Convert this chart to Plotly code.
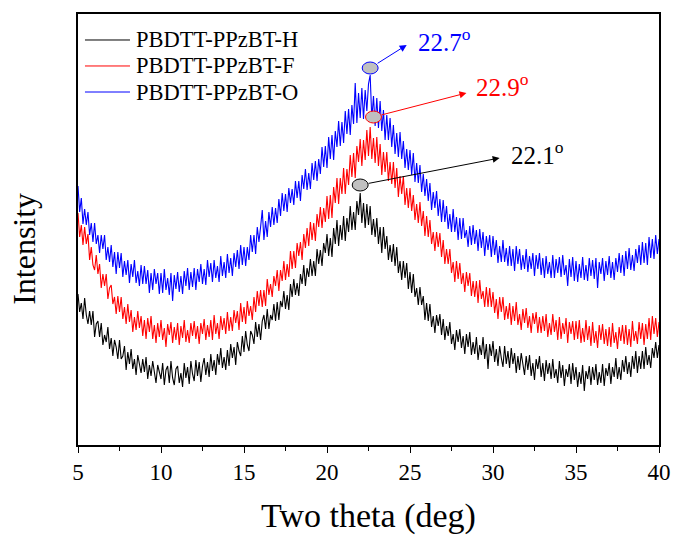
import numpy as np
import plotly.graph_objects as go

# ---- data (intensity in arbitrary units) ----
x_start, x_step = 5.0, 0.1

series_names = ["PBDTT-PPzBT-H", "PBDTT-PPzBT-F", "PBDTT-PPzBT-O"]
series_colors = ["#000000", "#ff0000", "#0000ff"]

intensity_H = [
    151,133,142,126,147,130,121,134,120,134,
    108,121,124,108,122,100,110,103,118,96,
    107,89,105,98,86,105,86,89,99,75,
    93,81,96,76,86,70,90,79,72,86,
    73,88,66,80,69,84,71,62,80,72,
    66,82,60,75,79,62,84,67,60,76,
    79,62,72,58,82,67,78,61,84,71,
    64,85,69,83,63,79,87,70,83,68,
    91,74,85,70,91,80,97,77,88,75,
    95,79,101,87,98,80,103,94,89,109,
    93,114,100,94,114,110,101,123,108,121,
    105,124,130,116,136,116,130,125,141,124,
    143,125,144,138,154,136,150,135,161,148,
    166,150,162,149,171,161,180,159,177,168,
    186,169,184,169,196,181,195,179,202,192,
    211,189,207,188,217,201,225,199,220,205,
    229,204,227,213,239,215,233,215,244,230,
    252,222,242,217,241,220,239,210,226,208,
    227,201,218,192,218,196,209,185,200,183,
    201,179,198,172,184,165,184,167,182,156,
    173,152,171,148,157,140,158,140,149,125,
    142,124,141,118,129,112,130,119,131,110,
    126,105,119,109,123,101,111,95,115,103,
    116,97,109,91,111,98,113,90,103,91,
    108,85,100,90,108,86,101,76,101,89,
    104,83,96,79,99,87,78,99,81,94,
    77,97,81,92,72,89,75,92,78,70,
    89,75,90,69,82,65,86,76,89,68,
    82,64,85,71,82,66,86,67,76,62,
    84,67,80,59,76,68,81,61,82,65,
    78,58,73,61,80,54,74,66,79,60,
    78,65,81,60,73,62,81,59,77,69,
    82,61,78,68,87,66,78,65,85,73,
    89,71,83,68,89,76,94,72,89,76,
    94,76,98,80,90,77,97,87,103,87,
    100,
]

intensity_F = [
    232,208,220,200,218,201,211,185,198,180,
    175,190,171,181,157,171,159,171,146,157,
    160,141,148,131,149,133,148,126,138,121,
    141,123,135,113,128,115,134,117,129,109,
    125,106,127,113,129,106,120,102,122,108,
    125,105,117,98,121,110,123,102,118,105,
    122,100,119,107,125,103,115,102,122,109,
    124,106,119,101,122,111,126,105,120,108,
    125,105,130,111,122,106,129,115,127,111,
    133,114,128,114,135,122,134,115,142,123,
    138,121,144,129,139,125,148,133,154,139,
    155,138,155,139,166,150,161,148,169,159,
    175,154,175,164,184,165,181,168,194,176,
    194,177,202,189,203,185,211,197,217,199,
    223,205,222,204,231,218,238,217,237,223,
    249,226,250,227,258,242,267,241,267,251,
    277,251,276,260,290,268,292,267,299,283,
    306,279,305,285,315,289,318,286,307,282,
    308,279,301,270,293,273,293,264,283,261,
    283,257,277,248,269,251,269,240,257,237,
    257,234,250,225,241,222,243,219,234,209,
    229,208,225,201,213,194,213,198,212,188,
    205,181,196,181,196,172,183,163,184,166,
    182,161,172,153,173,159,172,149,164,148,
    164,142,165,146,154,138,158,138,157,138,
    153,132,146,126,148,133,148,125,139,126,
    142,120,139,124,143,120,131,115,136,122,
    137,117,129,112,132,121,133,112,128,112,
    129,114,131,108,122,110,131,113,125,105,
    128,106,122,111,127,102,123,111,124,105,
    124,106,125,102,117,103,125,105,119,99,
    123,102,114,97,120,105,121,101,116,99,
    118,98,122,102,113,96,118,104,120,101,
    120,100,116,98,124,104,114,101,123,106,
    122,100,121,106,127,105,129,111,127,108,
    123,
]

intensity_O = [
    259,233,247,221,236,220,233,210,222,203,
    222,201,210,192,210,196,210,185,198,183,
    200,178,193,171,193,177,192,168,184,170,
    185,162,181,168,185,162,174,159,180,161,
    179,161,175,152,172,155,176,161,172,151,
    172,152,176,155,167,150,172,144,170,156,
    173,153,169,151,174,159,177,155,173,158,
    177,155,176,163,181,161,176,160,185,168,
    182,163,185,167,179,163,189,169,183,167,
    191,172,187,169,192,178,195,176,200,180,
    198,179,198,185,210,193,210,191,218,203,
    218,235,205,224,208,233,218,238,220,237,
    222,246,229,252,234,251,233,257,242,256,
    240,264,247,264,244,270,256,276,255,272,
    256,282,265,284,264,286,271,298,278,299,
    277,308,286,310,285,314,298,324,299,323,
    302,334,311,336,310,340,321,362,322,352,
    327,357,326,355,334,361,370,326,349,319,
    347,317,344,314,335,305,330,305,327,298,
    320,291,312,288,313,286,304,277,296,275,
    295,270,292,263,282,262,280,253,271,249,
    266,244,262,235,253,237,254,229,246,223,
    245,223,239,216,231,213,236,213,228,205,
    227,206,227,207,215,198,219,200,220,201,
    215,194,216,197,213,189,209,195,210,188,
    209,190,205,182,199,183,205,183,197,179,
    199,179,196,174,199,181,196,175,190,176,
    196,173,189,176,192,169,190,176,192,170,
    187,167,189,171,183,167,190,167,186,172,
    188,168,190,170,180,159,186,168,188,164,
    184,163,181,167,188,165,180,164,187,169,
    185,166,187,157,183,171,187,164,184,170,
    189,167,183,165,187,173,192,172,190,169,
    194,176,197,175,190,174,196,182,200,180,
    203,182,202,180,208,187,206,186,210,191,
    206,
]

x_ticks = [5, 10, 15, 20, 25, 30, 35, 40]
x_minor_ticks = [7.5, 12.5, 17.5, 22.5, 27.5, 32.5, 37.5]

# peak annotations: marker positions/heights, arrow tips, label positions
peak_pos = [22.0, 22.8, 22.6]
peak_height = [260, 328, 377]
arrow_tip_x = [30.4, 28.4, 24.8]
arrow_tip_y = [287, 352, 400]
label_x = [30.95, 28.85, 25.35]
label_y = [292, 360, 405]
peak_labels = ["22.1", "22.9", "22.7"]

# legend rows (paper coordinates inside the frame)
legend_rows_y = [0.9397, 0.8794, 0.819]

FONT = "Liberation Serif, Times New Roman, serif"

fig = go.Figure()
for name, col, ys in zip(series_names, series_colors,
                         [intensity_H, intensity_F, intensity_O]):
    xs = np.round(x_start + x_step * np.arange(len(ys)), 2)
    fig.add_trace(go.Scatter(x=xs, y=ys, mode="lines", name=name,
                             line=dict(color=col, width=1.1),
                             showlegend=False))

for px, ph, tx, ty, lx, ly, lab, col in zip(peak_pos, peak_height, arrow_tip_x,
                                            arrow_tip_y, label_x, label_y,
                                            peak_labels, series_colors):
    fig.add_annotation(x=tx, y=ty, ax=px, ay=ph, xref="x", yref="y",
                       axref="x", ayref="y", text="", showarrow=True,
                       arrowhead=2, arrowsize=1.4, arrowwidth=1,
                       arrowcolor=col, startstandoff=7)
    fig.add_shape(type="circle", xref="x", yref="y",
                  x0=px - 0.48, x1=px + 0.48, y0=ph - 6, y1=ph + 6,
                  fillcolor="#c0c0c0", line=dict(color=col, width=1))
    fig.add_annotation(x=lx, y=ly, xref="x", yref="y", text=lab + "<sup>o</sup>",
                       showarrow=False, xanchor="left", yanchor="middle",
                       font=dict(family=FONT, size=25, color=col))

# legend drawn inside the frame
for name, col, ly in zip(series_names, series_colors, legend_rows_y):
    fig.add_shape(type="line", xref="paper", yref="paper",
                  x0=0.012, x1=0.0895, y0=ly, y1=ly,
                  line=dict(color=col, width=1))
    fig.add_annotation(text=name, xref="paper", yref="paper", x=0.0964, y=ly,
                       xanchor="left", yanchor="middle", showarrow=False,
                       font=dict(family=FONT, size=22.5, color="black"))

# y-axis title (placed slightly below the axis centre, as in the reference)
fig.add_annotation(text="Intensity", xref="paper", yref="paper",
                   x=-0.093, y=0.455, xanchor="center", yanchor="middle",
                   textangle=-90, showarrow=False,
                   font=dict(family=FONT, size=32, color="black"))

fig.update_layout(
    width=675, height=542,
    margin=dict(l=78, r=16, t=14, b=97),
    paper_bgcolor="white", plot_bgcolor="white",
    font=dict(family=FONT, color="black"),
    showlegend=False,
)
fig.update_xaxes(range=[5, 40], tickmode="array", tickvals=x_ticks,
                 ticks="outside", ticklen=6, tickwidth=1.2, tickcolor="black",
                 minor=dict(tickvals=x_minor_ticks, ticks="outside", ticklen=4,
                            tickwidth=1.2, tickcolor="black"),
                 showline=True, linecolor="black", linewidth=1.5, mirror=True,
                 showgrid=False, zeroline=False, automargin=False,
                 ticklabeloverflow="allow",
                 tickfont=dict(family=FONT, size=23),
                 title=dict(text="Two theta (deg)", standoff=19,
                            font=dict(family=FONT, size=34)))
fig.update_yaxes(range=[0, 431], showticklabels=False, ticks="",
                 showline=True, linecolor="black", linewidth=1.5, mirror=True,
                 showgrid=False, zeroline=False, automargin=False)

# remove the default 8 px page margin so the figure fills the window exactly
fig.write_html("out.html",
               config={"displayModeBar": False},
               post_script="document.body.style.margin='0px';"
                           "document.body.style.overflow='hidden';")
